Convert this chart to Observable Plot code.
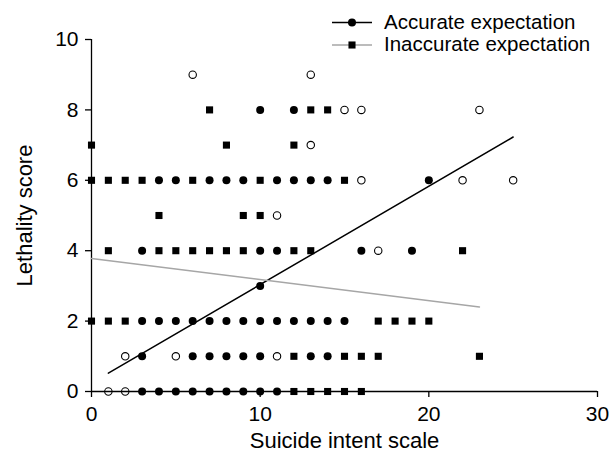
<!DOCTYPE html>
<html><head><meta charset="utf-8">
<script src="https://cdn.jsdelivr.net/npm/d3@7"></script>
<script src="https://cdn.jsdelivr.net/npm/@observablehq/plot@0.6"></script>
<style>
body{margin:0;background:#fff;}
#wrap{position:relative;width:609px;height:457px;font-family:"Liberation Sans",Arial,sans-serif;}
#legend{position:absolute;left:0;top:0;pointer-events:none;}
</style></head><body><div id="wrap"></div>
<script>
// Accurate expectation (filled circles)
const accurateIntent    = [3,4,5,6,7,8,9,10,11, 3,6,7,8,9,10,13,14, 3,4,5,6,7,8,9,10,11,12,13,14,15, 10, 3,10,11,16,19, 4,5,7,8,9,11,12,13,14,20, 10,12];
const accurateLethality = [0,0,0,0,0,0,0,0,0,   1,1,1,1,1,1,1,1,   2,2,2,2,2,2,2,2,2,2,2,2,2,         3, 4,4,4,4,4,   6,6,6,6,6,6,6,6,6,6,      8,8];
// Inaccurate expectation (filled squares)
const inaccurateIntent    = [12,13,14,15,16, 12,15,16,17,23, 0,1,2,17,18,19,20, 1,4,5,6,7,8,9,12,13,22, 4,9,10, 0,1,2,3,6,10,15, 0,8,12, 7,13,14];
const inaccurateLethality = [0,0,0,0,0,      1,1,1,1,1,      2,2,2,2,2,2,2,       4,4,4,4,4,4,4,4,4,4,    5,5,5,  6,6,6,6,6,6,6,    7,7,7,  8,8,8];
// Open circles
const openIntent    = [1,2, 2,5,11, 17, 11, 16,22,25, 13, 15,16,23, 6,13];
const openLethality = [0,0, 1,1,1,  4,  5,  6,6,6,    7,  8,8,8,    9,9];
// Fitted lines (endpoints)
const accurateFitIntent = [1, 25];
const accurateFitLethality = [0.52, 7.23];
const inaccurateFitIntent = [0, 23];
const inaccurateFitLethality = [3.78, 2.40];
// Ticks and labels
const xTicks = [0, 10, 20, 30];
const yTicks = [0, 2, 4, 6, 8, 10];
const xTitle = "Suicide intent scale";
const yTitle = "Lethality score";
const legendLabels = ["Accurate expectation", "Inaccurate expectation"];
const legendColors = ["#000000", "#a6a6a6"];
const legendSymbols = ["circle", "square"];

const rows = (xs, ys) => xs.map((x, i) => ({intent: x, lethality: ys[i]}));
const font = '"Liberation Sans", Arial, sans-serif';

const chart = Plot.plot({
  width: 609, height: 457,
  marginLeft: 91, marginRight: 12, marginTop: 39, marginBottom: 66,
  style: {fontFamily: font, fontSize: "21px", background: "white", color: "black"},
  x: {domain: [0, 30]},
  y: {domain: [0, 10]},
  marks: [
    Plot.ruleY([0], {stroke: "black", strokeWidth: 1.3}),
    Plot.ruleX([0], {stroke: "black", strokeWidth: 1.3}),
    Plot.axisX({ticks: xTicks, tickSize: 6, tickPadding: 9, fontSize: 21, strokeWidth: 1.3, label: null}),
    Plot.axisY({ticks: yTicks, tickSize: 6, tickPadding: 7, fontSize: 21, strokeWidth: 1.3, label: null}),
    Plot.text([xTitle], {text: d => d, frameAnchor: "bottom", textAnchor: "middle", lineAnchor: "middle", dy: 49, fontSize: 22, fill: "black"}),
    Plot.text([yTitle], {text: d => d, frameAnchor: "left", textAnchor: "middle", lineAnchor: "middle", rotate: -90, dx: -67, fontSize: 22, fill: "black"}),
    Plot.line(rows(accurateFitIntent, accurateFitLethality), {x: "intent", y: "lethality", stroke: legendColors[0], strokeWidth: 1.5}),
    Plot.line(rows(inaccurateFitIntent, inaccurateFitLethality), {x: "intent", y: "lethality", stroke: legendColors[1], strokeWidth: 1.5}),
    Plot.dot(rows(openIntent, openLethality), {x: "intent", y: "lethality", r: 3.7, stroke: "black", fill: "none", strokeWidth: 1.1}),
    Plot.dot(rows(accurateIntent, accurateLethality), {x: "intent", y: "lethality", r: 4, fill: "black", stroke: "none", symbol: "circle"}),
    Plot.dot(rows(inaccurateIntent, inaccurateLethality), {x: "intent", y: "lethality", r: 4, fill: "black", stroke: "none", symbol: "square"})
  ]
});

const wrap = document.getElementById("wrap");
wrap.appendChild(chart);

// Legend overlay (top right)
const legend = d3.create("svg").attr("id", "legend").attr("width", 609).attr("height", 60)
  .attr("font-family", font).attr("font-size", 20.5);
const rowY = [22.5, 45];
legendLabels.forEach((label, i) => {
  const g = legend.append("g").attr("transform", `translate(0,${rowY[i]})`);
  g.append("line").attr("x1", 332).attr("x2", 372).attr("y1", 0).attr("y2", 0)
    .attr("stroke", legendColors[i]).attr("stroke-width", 1.4);
  g.append("path").attr("transform", "translate(352,0)")
    .attr("d", d3.symbol(legendSymbols[i] === "circle" ? d3.symbolCircle : d3.symbolSquare, Math.PI * 16)())
    .attr("fill", "black");
  g.append("text").attr("x", 384).attr("y", 6.3).attr("fill", "black").text(label);
});
wrap.appendChild(legend.node());
</script></body></html>
